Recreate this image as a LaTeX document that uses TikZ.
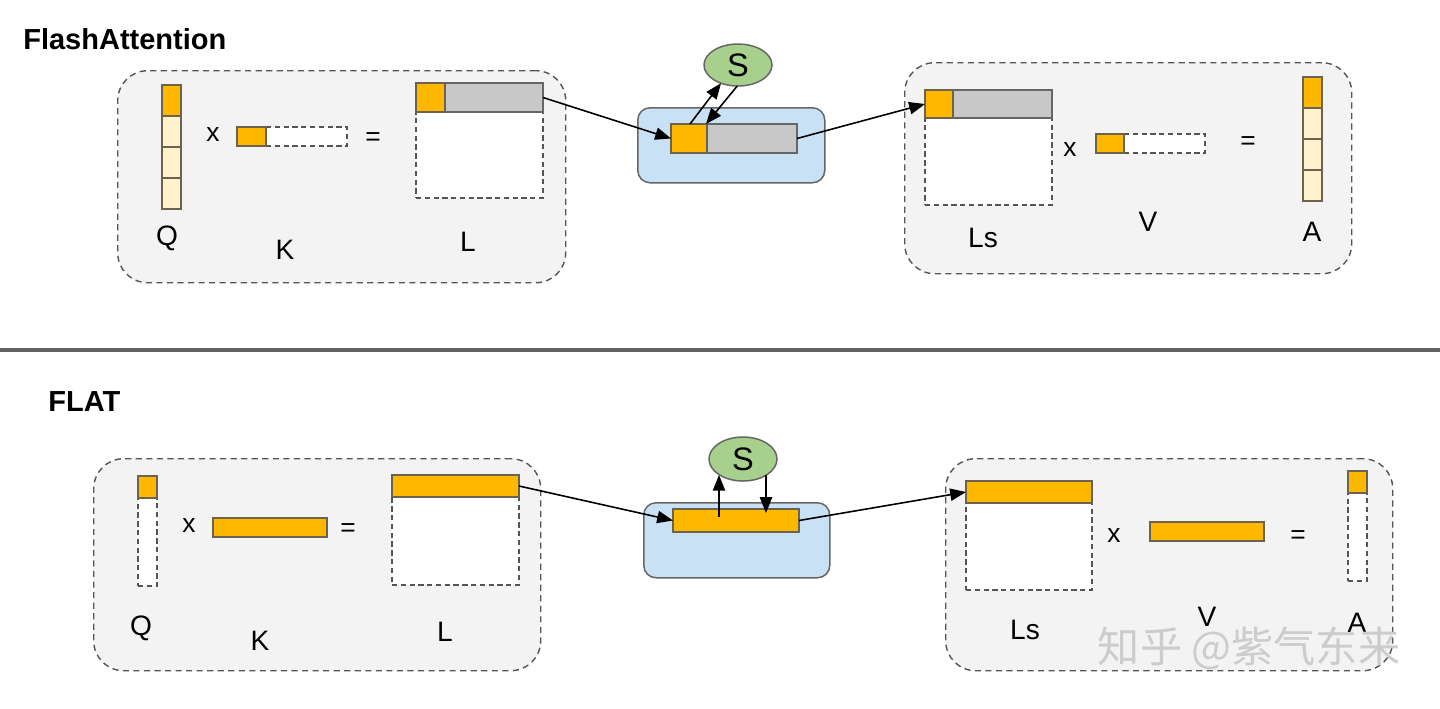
\documentclass[tikz,border=0pt]{standalone}
\usepackage{fontspec}
\setmainfont{Liberation Sans}
\newfontfamily\cjkfont{Noto Sans CJK SC}
\usepackage{tikz}
\usetikzlibrary{arrows.meta, shapes.geometric}
\definecolor{hotfill}{HTML}{FFB800}
\definecolor{coolfill}{HTML}{FFF2CC}
\definecolor{spentfill}{HTML}{C8C8C8}
\definecolor{tileline}{HTML}{6B6350}
\definecolor{panelfill}{HTML}{F3F3F3}
\definecolor{panelline}{HTML}{555555}
\definecolor{sramfill}{HTML}{C9E1F4}
\definecolor{scalarfill}{HTML}{A8D08D}
\tikzset{
  tilesize/.style 2 args={minimum width=#1*0.02cm, minimum height=#2*0.02cm},
  tile/.style={rectangle, anchor=north west, inner sep=0pt, outer sep=0pt,
               line width=0.85pt, draw=tileline},
  hottile/.style={tile, fill=hotfill},
  cooltile/.style={tile, fill=coolfill},
  spenttile/.style={tile, fill=spentfill, draw=black!60},
  voidtile/.style={tile, fill=white, draw=panelline,
                   dash pattern=on 3pt off 2pt},
  panel/.style={rectangle, anchor=north west, draw=panelline, fill=panelfill,
                line width=0.8pt, dash pattern=on 3.5pt off 2.5pt,
                rounded corners=17pt},
  sram/.style={rectangle, anchor=north west, draw=black!60, fill=sramfill,
               line width=0.85pt, rounded corners=7pt},
  scalar/.style={ellipse, draw=black!60, fill=scalarfill, line width=0.85pt,
                 inner sep=0pt, outer sep=0pt, minimum width=68*0.02cm,
                 font=\fontsize{18.5}{20}\selectfont},
  flow/.style={-{Triangle[length=9pt, width=7pt]}, line width=0.9pt},
  mtxname/.style={inner sep=0pt, font=\fontsize{16}{19}\selectfont},
  opsign/.style={inner sep=0pt, font=\fontsize{15}{17}\selectfont},
  heading/.style={anchor=west, inner sep=0pt,
                  font=\bfseries\fontsize{16.5}{20}\selectfont}
}
\begin{document}
\begin{tikzpicture}[x=0.02cm, y=-0.02cm]
  \useasboundingbox[fill=white] (0,0) rectangle (1440,708);

  % FlashAttention
  \node[heading] (headA) at (23,39) {FlashAttention};
  \node[panel, tilesize={448}{212}] (panelQK) at (117,70) {};
  \node[panel, tilesize={447}{211}] (panelLV) at (904,62) {};
  \node[sram, tilesize={187}{75}] (sramA) at (637,107) {};

  \node[hottile, tilesize={19}{31}] (qa0) at (162,85) {};
  \foreach \i in {1,2,3} {
    \node[cooltile, tilesize={19}{31}] (qa\i) at (162,{85+31*\i}) {};
  }
  \node[voidtile, tilesize={81}{19}] (kavoid) at (266,127) {};
  \node[hottile, tilesize={29}{19}] (kahot) at (237,127) {};
  \node[voidtile, tilesize={127}{115}] (lavoid) at (416,83) {};
  \node[spenttile, tilesize={127}{29}] (larow) at (416,83) {};
  \node[hottile, tilesize={29}{29}] (lahot) at (416,83) {};

  \node[spenttile, tilesize={126}{29}] (barA) at (671,124) {};
  \node[hottile, tilesize={36}{29}] (barAhot) at (671,124) {};
  \node[scalar, minimum height=42*0.02cm] (sA) at (738,65) {S};

  \node[voidtile, tilesize={127}{115}] (lsavoid) at (925,90) {};
  \node[spenttile, tilesize={127}{28}] (lsarow) at (925,90) {};
  \node[hottile, tilesize={28}{28}] (lsahot) at (925,90) {};
  \node[voidtile, tilesize={81}{19}] (vavoid) at (1124,134) {};
  \node[hottile, tilesize={28}{19}] (vahot) at (1096,134) {};
  \node[hottile, tilesize={19}{31}] (aa0) at (1303,77) {};
  \foreach \i in {1,2,3} {
    \node[cooltile, tilesize={19}{31}] (aa\i) at (1303,{77+31*\i}) {};
  }

  \foreach \name/\x/\y/\txt in {qlblA/167/238/Q, klblA/285/250/K,
      llblA/468/242/L, lslblA/983/238/Ls, vlblA/1148/222/V, alblA/1312/232/A} {
    \node[mtxname] (\name) at (\x,\y) {\txt};
  }
  \node[opsign] (timesA) at (213,135) {x};
  \node[opsign] (eqA) at (373,139) {=};
  \node[opsign] (timesAr) at (1070,150) {x};
  \node[opsign] (eqAr) at (1248,143) {=};

  \coordinate (upA) at (690,124);
  \coordinate (dnA) at (706,124);
  \draw[flow] (larow.east) -- (barAhot.west);
  \draw[flow] (barA.east) -- (lsahot.west);
  \draw[flow] (upA) -- (sA.227);
  \draw[flow] (sA.268) -- (dnA);

  \draw[line width=2.2pt, draw=black!62] (0,350) -- (1440,350);

  % FLAT
  \node[heading] (headB) at (48,402) {FLAT};
  \node[panel, tilesize={447}{212}] (panelQKb) at (93,458) {};
  \node[panel, tilesize={447}{212}] (panelLVb) at (945,458) {};
  \node[sram, tilesize={186}{75}] (sramB) at (643,502) {};

  \node[voidtile, tilesize={19}{110}] (qbvoid) at (138,476) {};
  \node[hottile, tilesize={19}{22}] (qbhot) at (138,476) {};
  \node[hottile, tilesize={114}{19}] (kbhot) at (213,518) {};
  \node[voidtile, tilesize={127}{110}] (lbvoid) at (392,475) {};
  \node[hottile, tilesize={127}{22}] (lbrow) at (392,475) {};

  \node[hottile, tilesize={126}{23}] (barB) at (673,509) {};
  \node[scalar, minimum height=44*0.02cm] (sB) at (743,459) {S};

  \node[voidtile, tilesize={126}{109}] (lsbvoid) at (966,481) {};
  \node[hottile, tilesize={126}{22}] (lsbrow) at (966,481) {};
  \node[hottile, tilesize={114}{19}] (vbhot) at (1150,522) {};
  \node[voidtile, tilesize={19}{110}] (abvoid) at (1348,471) {};
  \node[hottile, tilesize={19}{22}] (abhot) at (1348,471) {};

  \foreach \name/\x/\y/\txt in {qlblB/141/628/Q, klblB/260/641/K,
      llblB/445/632/L, lslblB/1025/630/Ls, vlblB/1207/617/V, alblB/1357/623/A} {
    \node[mtxname] (\name) at (\x,\y) {\txt};
  }
  \node[opsign] (timesB) at (189,526) {x};
  \node[opsign] (eqB) at (348,530) {=};
  \node[opsign] (timesBr) at (1114,536) {x};
  \node[opsign] (eqBr) at (1298,537) {=};

  \coordinate (upB) at (719,517);
  \coordinate (dnB) at (766,513);
  \draw[flow] (lbrow.east) -- (barB.west);
  \draw[flow] (barB.east) -- (lsbrow.west);
  \draw[flow] (upB) -- (upB |- sB.214);
  \draw[flow] (dnB |- sB.326) -- (dnB);

  % watermark
  \node[inner sep=0pt, text=black!20, font=\cjkfont\fontsize{24}{26}\selectfont]
    (mark) at (1249,648) {知乎 @紫气东来};
\end{tikzpicture}
\end{document}
